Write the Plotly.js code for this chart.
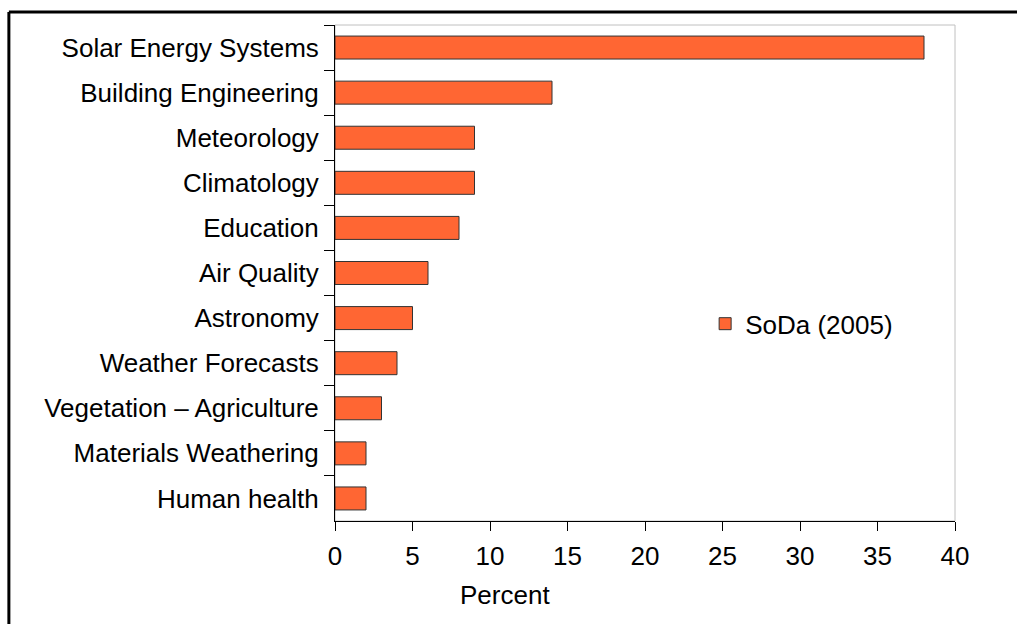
<!DOCTYPE html>
<html><head><meta charset="utf-8">
<script src="https://cdn.plot.ly/plotly-3.0.1.min.js"></script>
<style>body{margin:0;padding:0;background:#fff;overflow:hidden}#chart{width:1017px;height:624px}</style>
</head><body><div id="chart"></div>
<script>
const categories = ["Solar Energy Systems","Building Engineering","Meteorology","Climatology","Education","Air Quality","Astronomy","Weather Forecasts","Vegetation – Agriculture","Materials Weathering","Human health"];
const values = [38,14,9,9,8,6,5,4,3,2,2];
const seriesName = "SoDa (2005)";
const xTicks = [0,5,10,15,20,25,30,35,40];

const font = {family:"Liberation Sans, Arial, sans-serif", size:26, color:"#000"};
const trace = {
  type:"bar", orientation:"h", x:values, y:categories, name:seriesName,
  marker:{color:"#FF6633", line:{color:"#333333", width:1}},
  showlegend:true, hoverinfo:"x+y"
};
const layout = {
  width:1017, height:624,
  margin:{l:335, r:62, t:25, b:103},
  paper_bgcolor:"#fff", plot_bgcolor:"#fff",
  font:font,
  bargap:0.49,
  showlegend:true,
  legend:{x:0.597, y:0.445, xanchor:"left", yanchor:"top", font:font, bgcolor:"rgba(0,0,0,0)", itemwidth:30},
  xaxis:{range:[0,40], tickvals:xTicks, ticks:"outside", ticklen:9, tickcolor:"#000",
         showline:true, linecolor:"#000", linewidth:1, showgrid:false, zeroline:false,
         tickfont:font, ticklabelstandoff:3, fixedrange:true},
  yaxis:{type:"category", autorange:"reversed", ticks:"outside", ticklen:10, tickcolor:"#000",
         tickson:"boundaries", showline:true, linecolor:"#000", linewidth:1, showgrid:false,
         tickfont:font, ticklabelstandoff:10, fixedrange:true},
  shapes:[
    {type:"rect", xref:"paper", yref:"paper", x0:0, x1:1, y0:0, y1:1, line:{color:"#c0c0c0", width:1}, layer:"below"},
    {type:"line", xref:"paper", yref:"paper", x0:-0.526, x1:1.12, y0:1.026, y1:1.026, line:{color:"#000", width:3}},
    {type:"line", xref:"paper", yref:"paper", x0:-0.526, x1:-0.526, y0:1.026, y1:-0.25, line:{color:"#000", width:3}}
  ],
  annotations:[
    {text:"Percent", xref:"paper", yref:"paper", x:0.274, y:-0.15, xanchor:"center", yanchor:"middle", showarrow:false, font:font}
  ]
};
Plotly.newPlot("chart",[trace],layout,{displayModeBar:false, staticPlot:true});
</script></body></html>
